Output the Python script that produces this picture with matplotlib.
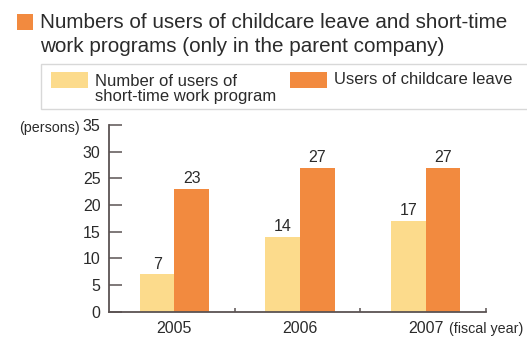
import matplotlib
matplotlib.use("Agg")
import numpy as np
from matplotlib import pyplot as plt
from matplotlib.patches import Rectangle

plt.rcParams['font.family'] = ['Liberation Sans', 'DejaVu Sans']

years = ['2005', '2006', '2007']
short_time = [7, 14, 17]
childcare = [23, 27, 27]

YELLOW = '#fcdb8c'
ORANGE = '#f28a3f'
AXC = '#5b5353'
TXT = '#2b2b2b'

fig = plt.figure(figsize=(5.27, 3.38), dpi=100)
W, H = 527, 338


def fx(px):
    return px / W


def fy(py):
    return 1 - py / H


# title block
fig.patches.append(Rectangle((fx(17), fy(30)), 16 / W, 16 / H, transform=fig.transFigure,
                             facecolor=ORANGE, edgecolor='none'))
fig.text(fx(40), fy(22), 'Numbers of users of childcare leave and short-time',
         fontsize=14.9, color=TXT, va='center', ha='left')
fig.text(fx(40), fy(46), 'work programs (only in the parent company)',
         fontsize=14.9, color=TXT, va='center', ha='left')

# legend box
fig.patches.append(Rectangle((fx(41), fy(109)), (530 - 41) / W, 45 / H, transform=fig.transFigure,
                             facecolor='white', edgecolor='#d8d8d8', lw=1))
fig.patches.append(Rectangle((fx(51), fy(88)), 37 / W, 16 / H, transform=fig.transFigure,
                             facecolor=YELLOW, edgecolor='none'))
fig.text(fx(95), fy(89), 'Number of users of\nshort-time work program',
         fontsize=12, color=TXT, va='center', ha='left', linespacing=1.02)
fig.patches.append(Rectangle((fx(290), fy(88)), 37 / W, 16 / H, transform=fig.transFigure,
                             facecolor=ORANGE, edgecolor='none'))
fig.text(fx(334), fy(80), 'Users of childcare leave',
         fontsize=12, color=TXT, va='center', ha='left')

# axes
ax = fig.add_axes([fx(109), fy(311.7), (486 - 109) / W, (311.7 - 125) / H])
x = np.arange(len(years)) + 0.5
bw = 0.275
ax.bar(x - bw / 2 + 0.02, short_time, bw, color=YELLOW, linewidth=0)
ax.bar(x + bw / 2 + 0.02, childcare, bw, color=ORANGE, linewidth=0)
for xi, v in zip(x - bw / 2 + 0.02, short_time):
    ax.text(xi, v + 0.5, str(v), ha='center', va='bottom', fontsize=11.5, color=TXT)
for xi, v in zip(x + bw / 2 + 0.02, childcare):
    ax.text(xi, v + 0.5, str(v), ha='center', va='bottom', fontsize=11.5, color=TXT)

ax.set_xlim(0, 3)
ax.set_ylim(0, 35)
for s in ['top', 'right']:
    ax.spines[s].set_visible(False)
for s in ['left', 'bottom']:
    ax.spines[s].set_color(AXC)
    ax.spines[s].set_linewidth(1.3)

ax.set_yticks(np.arange(0, 36, 5))
ax.tick_params(axis='y', direction='in', length=9, width=1.1, color=AXC,
               labelsize=11.5, labelcolor=TXT, pad=6)
ax.set_xticks([1, 2, 3])
ax.set_xticklabels([])
ax.tick_params(axis='x', which='major', direction='in', length=3, width=1.1, color=AXC)
ax.set_xticks(x + 0.02, minor=True)
ax.set_xticklabels(years, minor=True)
ax.tick_params(axis='x', which='minor', length=0, labelsize=11.5, labelcolor=TXT, pad=7)

fig.text(fx(80), fy(128), '(persons)', fontsize=10.3, color=TXT, ha='right', va='center')
fig.text(fx(523), fy(329), '(fiscal year)', fontsize=10.3, color=TXT, ha='right', va='center')

fig.savefig('out.png', dpi=100)
